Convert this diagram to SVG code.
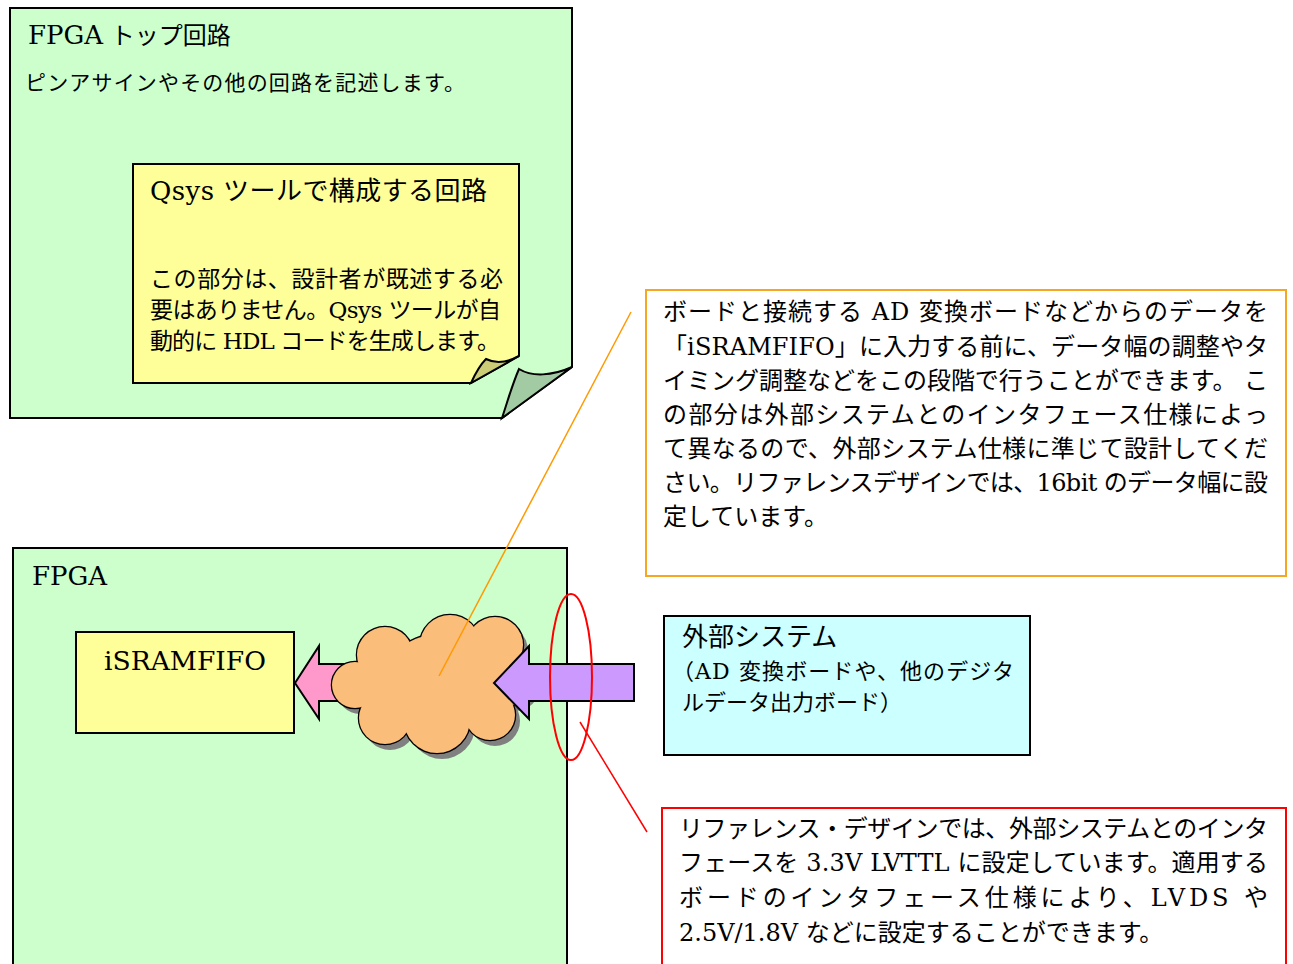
<svg xmlns="http://www.w3.org/2000/svg" width="1293" height="964" viewBox="0 0 1293 964">
<style>
text{font-family:"DejaVu Serif","Noto Sans CJK JP",serif;fill:#000}
.ol{stroke:#000;stroke-width:2;stroke-linejoin:miter}
.t26{font-size:26px}
.t24{font-size:24px}
.t23{font-size:23px}
.t22{font-size:22px}
.t21{font-size:21px}
.inner{fill:none;stroke:#000;stroke-width:1.2}
</style>
<defs>
<g id="cloudShape">
<circle cx="385" cy="655" r="28"/>
<circle cx="450" cy="645" r="30"/>
<circle cx="495" cy="645" r="28"/>
<circle cx="510" cy="680" r="25"/>
<circle cx="490" cy="715" r="25"/>
<circle cx="437" cy="720" r="33"/>
<circle cx="385" cy="718" r="26"/>
<circle cx="355" cy="685" r="23"/>
<circle cx="435" cy="685" r="50"/>
<circle cx="395" cy="686" r="26"/>
<circle cx="482" cy="683" r="26"/>
</g>
</defs>
<rect width="1293" height="964" fill="#fff"/>

<g id="fpga-top">
<path class="ol" d="M10,8 H572 V367 L502,418 H10 Z" fill="#ccffcc"/>
<path class="ol" d="M502,418 C508,400 512,385 519,369 C532,377 552,376 572,367 Z" fill="#a3cba3" stroke-width="1.5"/>
<text class="t24" x="28" y="44"><tspan font-size="26">FPGA</tspan> トップ回路</text>
<text class="t21" x="25" y="90" textLength="440" lengthAdjust="spacing">ピンアサインやその他の回路を記述します。</text>
</g>

<g id="qsys">
<path class="ol" d="M133,164 H519 V356 L471,383 H133 Z" fill="#ffff99"/>
<path class="ol" d="M471,383 C476,372 480,365 486,359 C496,364 508,362 519,356 Z" fill="#cccc77" stroke-width="1.5"/>
<text class="t26" x="150" y="200" textLength="337" lengthAdjust="spacing">Qsys ツールで構成する回路</text>
<text class="t23" x="150" y="287" textLength="353" lengthAdjust="spacing">この部分は、設計者が既述する必</text>
<text class="t23" x="150" y="318" textLength="351" lengthAdjust="spacing">要はありません。Qsys ツールが自</text>
<text class="t23" x="150" y="349" textLength="350" lengthAdjust="spacing">動的に HDL コードを生成します。</text>
</g>

<g id="note-orange">
<rect x="646" y="290" width="640" height="286" fill="#fff" stroke="#f5a623" stroke-width="2"/>
<text class="t24" x="663" y="320" textLength="605" lengthAdjust="spacing">ボードと接続する AD 変換ボードなどからのデータを</text>
<text class="t24" x="663" y="355" textLength="605" lengthAdjust="spacing">「iSRAMFIFO」に入力する前に、データ幅の調整やタ</text>
<text class="t24" x="663" y="389" textLength="605" lengthAdjust="spacing">イミング調整などをこの段階で行うことができます。 こ</text>
<text class="t24" x="663" y="423" textLength="605" lengthAdjust="spacing">の部分は外部システムとのインタフェース仕様によっ</text>
<text class="t24" x="663" y="457" textLength="605" lengthAdjust="spacing">て異なるので、外部システム仕様に準じて設計してくだ</text>
<text class="t24" x="663" y="491" textLength="605" lengthAdjust="spacing">さい。リファレンスデザインでは、16bit のデータ幅に設</text>
<text class="t24" x="663" y="525">定しています。</text>
</g>

<g id="fpga">
<rect class="ol" x="13" y="548" width="554" height="430" fill="#ccffcc"/>
<text class="t26" x="32" y="585">FPGA</text>
</g>

<g id="isramfifo">
<rect class="ol" x="76" y="632" width="218" height="101" fill="#ffff99"/>
<text class="t26" x="104" y="670" textLength="162" lengthAdjust="spacingAndGlyphs">iSRAMFIFO</text>
</g>

<g id="ext-system">
<rect class="ol" x="664" y="616" width="366" height="139" fill="#ccffff"/>
<text class="t26" x="682" y="646">外部システム</text>
<text class="t22" x="672" y="679" textLength="342" lengthAdjust="spacing">（AD  変換ボードや、他のデジタ</text>
<text class="t22" x="682" y="710">ルデータ出力ボード）</text>
</g>

<g id="note-red">
<rect x="662" y="808" width="624" height="170" fill="#fff" stroke="#ff0000" stroke-width="2"/>
<text class="t24" x="679" y="837" textLength="589" lengthAdjust="spacing">リファレンス・デザインでは、外部システムとのインタ</text>
<text class="t24" x="679" y="871" textLength="589" lengthAdjust="spacing">フェースを 3.3V LVTTL に設定しています。適用する</text>
<text class="t24" x="679" y="906" textLength="589" lengthAdjust="spacing">ボードのインタフェース仕様により、LVDS  や</text>
<text class="t24" x="679" y="941">2.5V/1.8V などに設定することができます。</text>
</g>

<g id="pink-arrow">
<path class="ol" d="M295,683 L319,646 V664 H360 V701 H319 V719 Z" fill="#ff99cc"/>
</g>

<g id="cloud">
<use href="#cloudShape" fill="#808080" transform="translate(5,6)"/>
<use href="#cloudShape" fill="#fbbd7a" stroke="#000" stroke-width="2.5"/>
<use href="#cloudShape" fill="#fbbd7a"/>
</g>

<g id="purple-arrow">
<path class="ol" d="M634,664 V701 H529 V719 L494,683 L529,646 V664 Z" fill="#cc99ff"/>
</g>

<g id="connectors" fill="none">
<line x1="631" y1="312" x2="439" y2="676" stroke="#ff9900" stroke-width="1.5"/>
<ellipse cx="571" cy="677" rx="21" ry="83" stroke="#ff0000" stroke-width="2"/>
<line x1="580" y1="722" x2="647" y2="832" stroke="#ff0000" stroke-width="1.5"/>
</g>
</svg>
